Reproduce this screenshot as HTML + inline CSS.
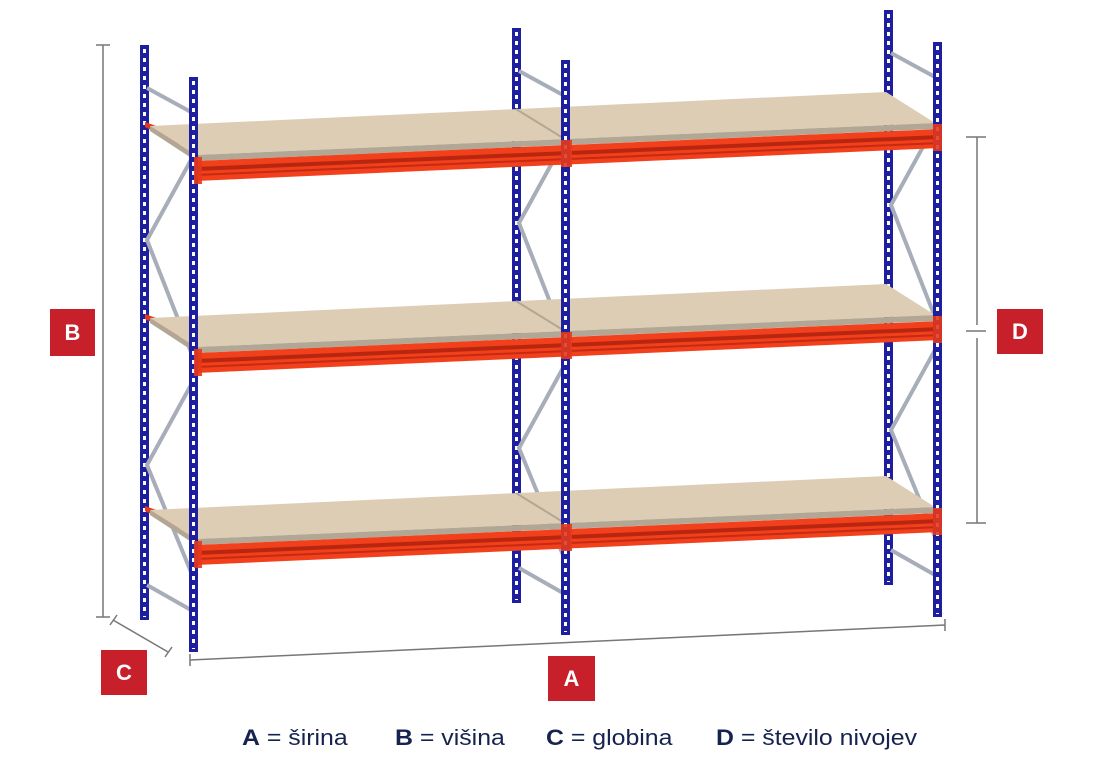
<!DOCTYPE html>
<html><head><meta charset="utf-8"><style>
html,body{margin:0;padding:0;background:#fff;width:1096px;height:768px;overflow:hidden}
.lg{position:absolute;top:725px;font:22px "Liberation Sans",sans-serif;color:#16234f;transform-origin:0 0;transform:scaleX(1.13)}
.lg b{font-weight:bold}
.box{position:absolute;background:#c8202a;color:#fff;font:bold 22px "Liberation Sans",sans-serif;display:flex;align-items:center;justify-content:center}
</style></head><body>
<svg width="1096" height="768" style="position:absolute;left:0;top:0">
<defs>
<g id="bu"><rect x="0" y="0" width="9" height="575" fill="#1d1f9e"/><line x1="4.5" y1="4" x2="4.5" y2="572" stroke="#fff" stroke-width="3" stroke-dasharray="4 5"/></g>
<g id="frameBack">
 <use href="#bu" x="140" y="45"/>
 <g stroke="#a8adba" stroke-width="4" fill="none">
  <line x1="147" y1="88" x2="191" y2="112"/>
  <polyline points="191,160 147,240 191,352"/>
  <polyline points="191,385 147,465 191,572"/>
  <line x1="147" y1="585" x2="191" y2="610"/>
 </g>
</g>
<g id="level">
 <polygon points="145,127 190,150 190,138 145,122" fill="#e23a1c"/>
 <polygon points="150,126 886,92 935,123 196,155" fill="#ddcdb5"/>
 <polygon points="150,126 196,155 196,161 150,131" fill="#b2a794"/>
 <line x1="516" y1="109" x2="563" y2="138" stroke="#b2a794" stroke-width="2"/>
 <polygon points="196,155 935,123 935,129 196,161" fill="#b2a794"/>
 <polygon points="196,161 940,129 940,148 196,181" fill="#f2401c"/>
 <polygon points="196,167 940,135 940,139 196,171" fill="#b8260f"/>
 <polygon points="196,174 940,142 940,144 196,176" fill="#c52a12"/>
</g>
</defs>
<use href="#frameBack"/>
<use href="#frameBack" x="372" y="-17"/>
<use href="#frameBack" x="744" y="-35"/>
<use href="#level"/>
<use href="#level" y="192"/>
<use href="#level" y="384"/>
<use href="#bu" x="189" y="77"/>
<use href="#bu" x="561" y="60"/>
<use href="#bu" x="933" y="42"/>
<g fill="#e8381a" opacity="0.9">
 <rect x="194" y="157" width="8" height="27"/><rect x="194" y="349" width="8" height="27"/><rect x="194" y="541" width="8" height="27"/>
 <rect x="561" y="140" width="11" height="27"/><rect x="561" y="332" width="11" height="27"/><rect x="561" y="524" width="11" height="27"/>
 <rect x="933" y="124" width="9" height="27"/><rect x="933" y="316" width="9" height="27"/><rect x="933" y="508" width="9" height="27"/>
</g>
<g stroke="#777" stroke-width="1.5" fill="none">
 <line x1="103" y1="45" x2="103" y2="617"/><line x1="96" y1="45" x2="110" y2="45"/><line x1="96" y1="617" x2="110" y2="617"/>
 <line x1="977" y1="137" x2="977" y2="325"/><line x1="977" y1="338" x2="977" y2="523"/>
 <line x1="966" y1="137" x2="986" y2="137"/><line x1="966" y1="331" x2="986" y2="331"/><line x1="966" y1="523" x2="986" y2="523"/>
 <line x1="190" y1="660" x2="945" y2="625"/><line x1="190" y1="654" x2="190" y2="666"/><line x1="945" y1="619" x2="945" y2="631"/>
 <line x1="113" y1="620" x2="168" y2="652"/><line x1="110" y1="625" x2="117" y2="615"/><line x1="165" y1="657" x2="172" y2="647"/>
</g>
</svg>
<div class="box" style="left:50px;top:309px;width:45px;height:47px">B</div>
<div class="box" style="left:997px;top:309px;width:46px;height:45px">D</div>
<div class="box" style="left:548px;top:656px;width:47px;height:45px">A</div>
<div class="box" style="left:101px;top:650px;width:46px;height:45px">C</div>
<div class="lg" style="left:242px"><b>A</b> = širina</div>
<div class="lg" style="left:395px"><b>B</b> = višina</div>
<div class="lg" style="left:546px"><b>C</b> = globina</div>
<div class="lg" style="left:716px"><b>D</b> = število nivojev</div>
</body></html>
